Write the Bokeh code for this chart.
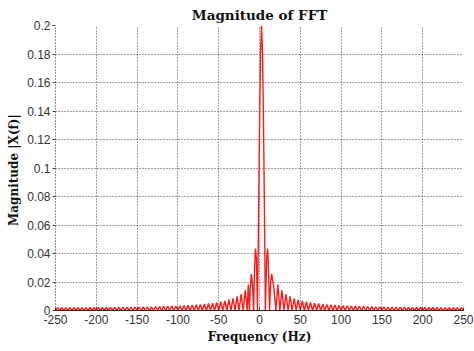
from bokeh.plotting import figure
from bokeh.models import FixedTicker, ColumnDataSource, Range1d
from bokeh.embed import file_html
from bokeh.resources import INLINE

# Positive-frequency half of the magnitude spectrum (it is symmetric)
freq_pos = [0, 1.25, 2.5, 3.75, 5,
            6.25, 7.2, 8.75, 10,
            11.25, 12.3, 13.75, 15,
            17.5, 20, 22.5, 25, 27.5, 30, 32.5, 35, 37.5, 40, 42.5, 45, 47.5, 50,
            52.5, 55, 57.5, 60, 62.5, 65, 67.5, 70, 72.5, 75, 77.5, 80, 82.5, 85,
            87.5, 90, 92.5, 95, 97.5, 100, 102.5, 105, 107.5, 110, 112.5, 115,
            117.5, 120, 122.5, 125, 127.5, 130, 132.5, 135, 137.5, 140, 142.5, 145,
            147.5, 150, 152.5, 155, 157.5, 160, 162.5, 165, 167.5, 170, 172.5, 175,
            177.5, 180, 182.5, 185, 187.5, 190, 192.5, 195, 197.5, 200, 202.5, 205,
            207.5, 210, 212.5, 215, 217.5, 220, 222.5, 225, 227.5, 230, 232.5, 235,
            237.5, 240, 242.5, 245, 247.5, 250]
mag_pos = [0.2, 0.18, 0.1273, 0.060, 0,
           0.036, 0.0434, 0.0257, 0,
           0.020, 0.0256, 0.0164, 0,
           0.0182, 0, 0.0142, 0, 0.0116, 0, 0.0099, 0, 0.0086, 0, 0.0076, 0, 0.0068, 0,
           0.0062, 0, 0.0057, 0, 0.0052, 0, 0.0049, 0, 0.0046, 0, 0.0043, 0, 0.0040, 0,
           0.0038, 0, 0.0036, 0, 0.0035, 0, 0.0033, 0, 0.0032, 0, 0.0031, 0,
           0.0030, 0, 0.0029, 0, 0.0028, 0, 0.0027, 0, 0.0026, 0, 0.0026, 0,
           0.0025, 0, 0.0024, 0, 0.0024, 0, 0.0023, 0, 0.0023, 0, 0.0023, 0,
           0.0022, 0, 0.0022, 0, 0.0022, 0, 0.0021, 0, 0.0021, 0, 0.0021, 0,
           0.0021, 0, 0.0021, 0, 0.0020, 0, 0.0020, 0, 0.0020, 0, 0.0020, 0,
           0.0020, 0, 0.0020, 0, 0.0020, 0, 0.0020, 0]

x_ticks = [-250, -200, -150, -100, -50, 0, 50, 100, 150, 200, 250]
y_ticks = [0, 0.02, 0.04, 0.06, 0.08, 0.1, 0.12, 0.14, 0.16, 0.18, 0.2]
y_tick_labels = ["0", "0.02", "0.04", "0.06", "0.08", "0.1", "0.12", "0.14", "0.16", "0.18", "0.2"]

freq = [-f for f in reversed(freq_pos[1:])] + freq_pos
mag = list(reversed(mag_pos[1:])) + mag_pos
src = ColumnDataSource(data=dict(freq=freq, mag=mag))

p = figure(width=474, height=351, output_backend="svg", toolbar_location=None,
           x_range=Range1d(-250, 250), y_range=Range1d(0, 0.2),
           title="Magnitude of FFT",
           min_border_left=55, min_border_right=11, min_border_top=25, min_border_bottom=41)

p.title.align = "center"
p.title.vertical_align = "top"
p.title.text_font = "DejaVu Serif"
p.title.text_font_size = "13.5px"
p.title.text_font_style = "bold"
p.title.text_color = "#111111"
p.title.offset = 0
p.title.standoff = 2

p.outline_line_color = None
p.background_fill_color = "white"
p.border_fill_color = "white"

for g in (p.xgrid, p.ygrid):
    g.grid_line_color = "#222222"
    g.grid_line_dash = "1 2"
    g.grid_line_width = 1
    g.grid_line_alpha = 0.85

p.xaxis.ticker = FixedTicker(ticks=x_ticks)
p.yaxis.ticker = FixedTicker(ticks=y_ticks)
p.yaxis.major_label_overrides = {t: l for t, l in zip(y_ticks, y_tick_labels)}
p.xaxis.major_label_overrides = {t: str(t) for t in x_ticks}

for ax in (p.xaxis, p.yaxis):
    ax.major_label_text_font = "Liberation Sans"
    ax.major_label_text_font_size = "12px"
    ax.major_label_text_color = "#333333"
    ax.axis_label_text_font = "DejaVu Serif"
    ax.axis_label_text_font_size = "12px"
    ax.axis_label_text_font_style = "bold"
    ax.axis_label_text_color = "#111111"
    ax.minor_tick_line_color = None
    ax.major_tick_line_color = "#444444"

p.xaxis.axis_label = "Frequency (Hz)"
p.yaxis.axis_label = "Magnitude  |X(f)|"
p.xaxis.axis_line_color = "#222222"
p.xaxis.major_tick_in = 3
p.xaxis.major_tick_out = 0
p.xaxis.major_label_standoff = 4
p.xaxis.axis_label_standoff = 3
p.yaxis.axis_line_color = "#222222"
p.yaxis.axis_line_dash = "1 2"
p.yaxis.major_tick_in = 0
p.yaxis.major_tick_out = 3
p.yaxis.major_label_standoff = 2
p.yaxis.axis_label_standoff = 3

p.line("freq", "mag", source=src, line_color="#ff1a1a", line_width=1.4)

open("out.html", "w").write(file_html(p, INLINE))
